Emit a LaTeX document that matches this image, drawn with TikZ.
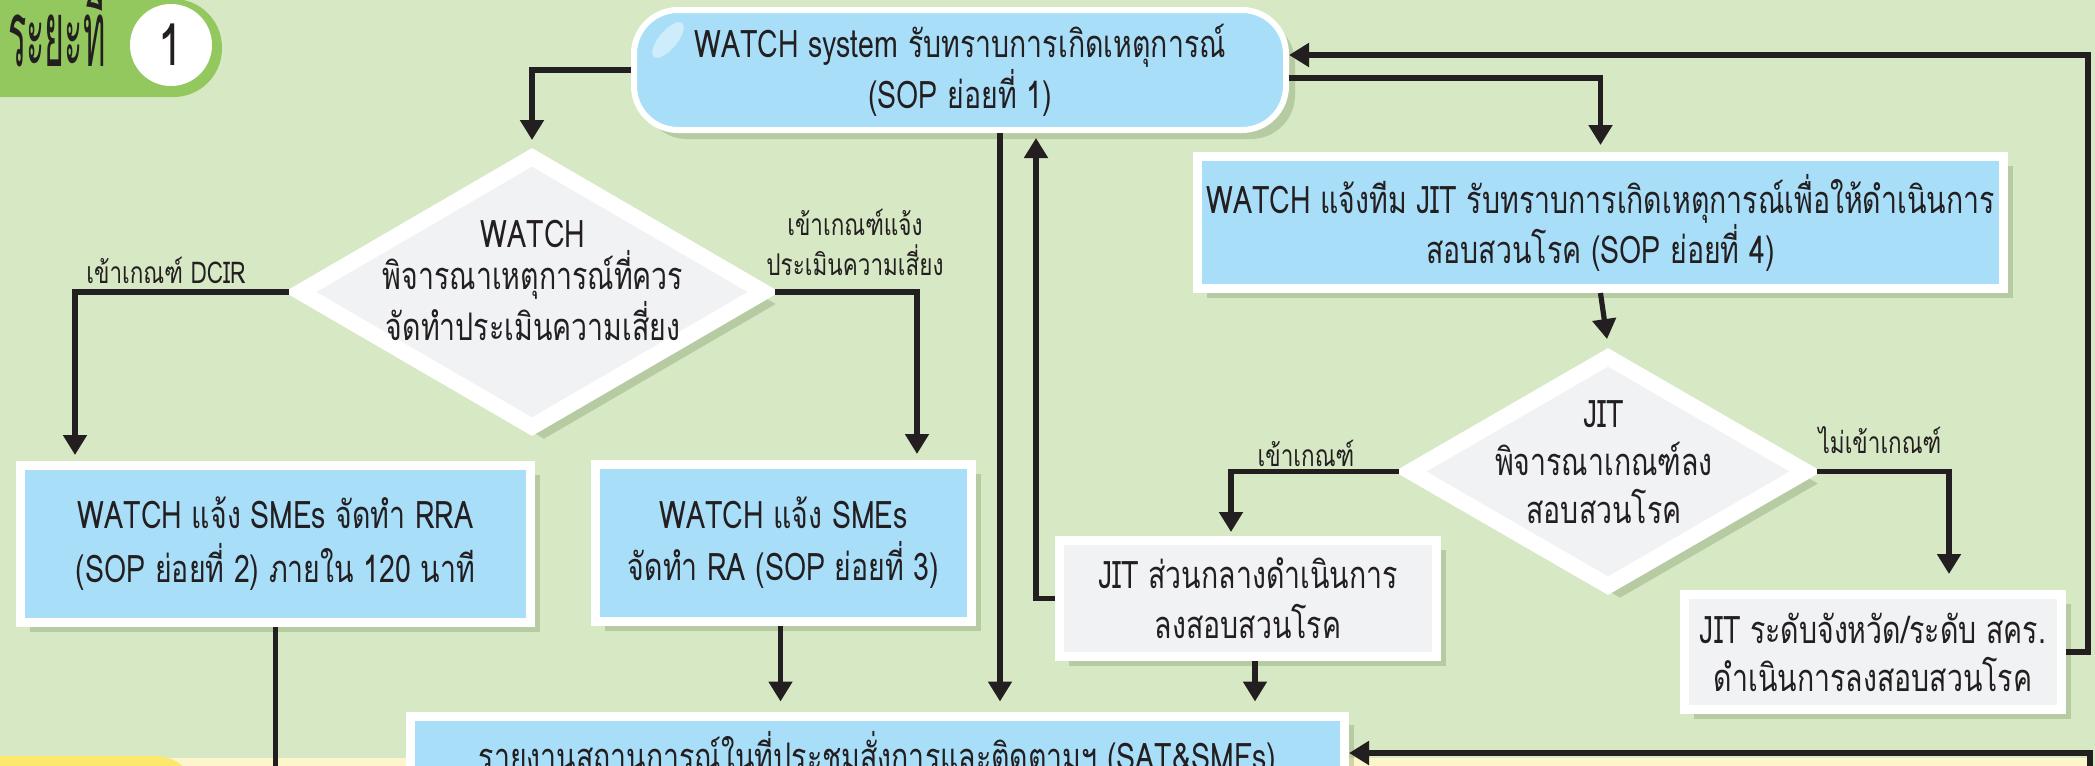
\documentclass[tikz,border=0pt]{standalone}
\usepackage{fontspec}
\setmainfont{Loma}[Script=Thai,FakeStretch=0.75]
\newfontfamily\tabfont{Loma}[Script=Thai,FakeStretch=0.37]
\usetikzlibrary{shapes.geometric,arrows.meta,calc,shadows}
\definecolor{bg}{HTML}{D7E8C4}
\definecolor{tabgreen}{HTML}{92C85E}
\definecolor{boxblue}{HTML}{A9DEF9}
\definecolor{boxgray}{HTML}{F1F2F4}
\definecolor{ink}{HTML}{231F20}
\definecolor{yel}{HTML}{FCE86C}
\definecolor{lyel}{HTML}{FDF5CB}
\definecolor{shadowc}{HTML}{6F8A5A}
\begin{document}
\begin{tikzpicture}[x=0.5pt,y=-0.5pt,
  font=\fontsize{19}{25}\selectfont,
  boxshadow/.style={drop shadow={fill=shadowc,opacity=0.3,shadow xshift=4.5pt,shadow yshift=-4.5pt}},
  diashadow/.style={drop shadow={fill=shadowc,opacity=0.3,shadow xshift=6pt,shadow yshift=-6pt}},
  bluebox/.style={rectangle,fill=boxblue,draw=white,line width=4.5pt,align=center,inner sep=0pt,text=ink,boxshadow},
  graybox/.style={bluebox,fill=boxgray},
  decision/.style={diamond,fill=boxgray,draw=white,line width=8pt,inner sep=0pt,diashadow},
  conn/.style={draw=ink,line width=2.6pt},
  arr/.style={conn,-{Triangle[length=10pt,width=11.5pt]}},
  lbl/.style={font=\fontsize{15}{20}\selectfont,align=center,text=ink,inner sep=0pt},
  txt/.style={align=center,text=ink,inner sep=0pt},
]
\useasboundingbox (0,0) rectangle (2095,766);
\clip (0,0) rectangle (2095,766);
\fill[bg] (0,0) rectangle (2095,766);
% stage 2 strip at the bottom
\fill[lyel] (0,758) rectangle (2090,800);
\fill[yel,rounded corners=20pt] (-60,756) rectangle (196,840);
% stage tab
\fill[tabgreen,rounded corners=24.25pt] (-60,-1) rectangle (222,97);
\node[anchor=base west,inner sep=0pt,text=ink] (tabt) at (8,66) {\tabfont\fontsize{46}{46}\selectfont ระยะที่};
\node[circle,fill=white,minimum size=41pt,inner sep=0pt,text=ink] (one) at (171,45) {\fontsize{29}{29}\selectfont 1};

% nodes
\node[bluebox,rounded corners=22pt,line width=3pt,minimum width=326pt,minimum height=60pt,
      font=\fontsize{19}{22.5}\selectfont] (watch) at (960,70)
  {WATCH system รับทราบการเกิดเหตุการณ์\\(SOP ย่อยที่ 1)};
\fill[white,opacity=0.45] (668,40) ellipse [x radius=9, y radius=22, rotate=-40];

\node[decision,minimum width=235pt,minimum height=138pt] (d1) at (532,292) {};
\node[txt,font=\fontsize{19}{21}\selectfont] (d1t) at (533,280)
  {WATCH\\พิจารณาเหตุการณ์ที่ควร\\จัดทำประเมินความเสี่ยง};

\node[bluebox,minimum width=255pt,minimum height=78.5pt,font=\fontsize{19}{27}\selectfont] (rra) at (275.5,544)
  {WATCH แจ้ง SMEs จัดทำ RRA\\(SOP ย่อยที่ 2) ภายใน 120 นาที};
\node[bluebox,minimum width=188pt,minimum height=78.5pt,font=\fontsize{19}{26}\selectfont] (ra) at (783.5,543)
  {WATCH แจ้ง SMEs\\จัดทำ RA (SOP ย่อยที่ 3)};

\node[bluebox,minimum width=403pt,minimum height=66pt] (jitw) at (1600.5,222.5)
  {WATCH แจ้งทีม JIT รับทราบการเกิดเหตุการณ์เพื่อให้ดำเนินการ\\สอบสวนโรค (SOP ย่อยที่ 4)};

\node[decision,minimum width=201pt,minimum height=117.5pt] (d2) at (1608,471.5) {};
\node[txt,font=\fontsize{19}{24}\selectfont] (d2t) at (1604,462)
  {JIT\\พิจารณาเกณฑ์ลง\\สอบสวนโรค};

\node[graybox,minimum width=188.5pt,minimum height=58pt] (jitc) at (1248,598.5)
  {JIT ส่วนกลางดำเนินการ\\ลงสอบสวนโรค};
\node[graybox,minimum width=188.5pt,minimum height=57.5pt,font=\fontsize{19}{24}\selectfont] (jitr) at (1873,652)
  {JIT ระดับจังหวัด/ระดับ สคร.\\ดำเนินการลงสอบสวนโรค};

\node[bluebox,minimum width=467pt,minimum height=40pt] (sat) at (877.5,756)
  {รายงานสถานการณ์ในที่ประชุมสั่งการและติดตามฯ (SAT\&SMEs)};

% labels
\node[lbl] (l1) at (166,270) {เข้าเกณฑ์ DCIR};
\node[lbl] (l2) at (855,242) {เข้าเกณฑ์แจ้ง\\ประเมินความเสี่ยง};
\node[lbl] (l3) at (1306,453) {เข้าเกณฑ์};
\node[lbl] (l4) at (1880,440) {ไม่เข้าเกณฑ์};

% connector points
\coordinate (rrain) at ($(rra.north west)+(59,0)$);
\coordinate (rain) at ($(ra.north west)+(326,0)$);
\coordinate (rraout) at (275.5,780);
\coordinate (raout) at ($(ra.south)+(-3,0)$);
\coordinate (wdown) at ($(watch.south)+(40,0)$);
\coordinate (wup) at ($(watch.south)+(76,0)$);
\coordinate (wright1) at ($(watch.east)+(0,8)$);
\coordinate (wright2) at ($(watch.east)+(0,-15)$);
\coordinate (rt) at (2088,55);
\coordinate (jcin) at ($(jitc.north)+(-17,0)$);
\coordinate (jrin) at ($(jitr.north)+(76,0)$);
\coordinate (jcout) at ($(jitc.south)+(7,0)$);
\coordinate (bin) at (2090,780);
\coordinate (br) at (2090,753);

% connectors
\draw[arr,shorten >=3pt] (watch.west) -| (d1.north);
\draw[arr,shorten >=3pt] (d1.west) -| (rrain);
\draw[arr,shorten >=3pt] (d1.east) -| (rain);
\draw[conn] (rra.south) -- (rraout);
\draw[arr,shorten >=5pt] (raout) -- (raout |- sat.north);
\draw[arr,shorten >=5pt] (wdown) -- (wdown |- sat.north);
\draw[arr,shorten >=5pt] (jcout) -- (jcout |- sat.north);
\draw[arr,shorten >=2.5pt] (jitc.west) -| (wup);
\draw[arr,shorten >=3.5pt] (wright1) -| (jitw.north);
\draw[arr] (jitr.east) -| (rt) -- (wright2);
\draw[arr,shorten >=3.5pt] (jitw.south) -- (d2.north);
\draw[arr,shorten >=2pt] (d2.west) -| (jcin);
\draw[arr,shorten >=8pt] (d2.east) -| (jrin);
\draw[arr] (bin) -- (br) -- (br -| sat.east);
\end{tikzpicture}
\end{document}
